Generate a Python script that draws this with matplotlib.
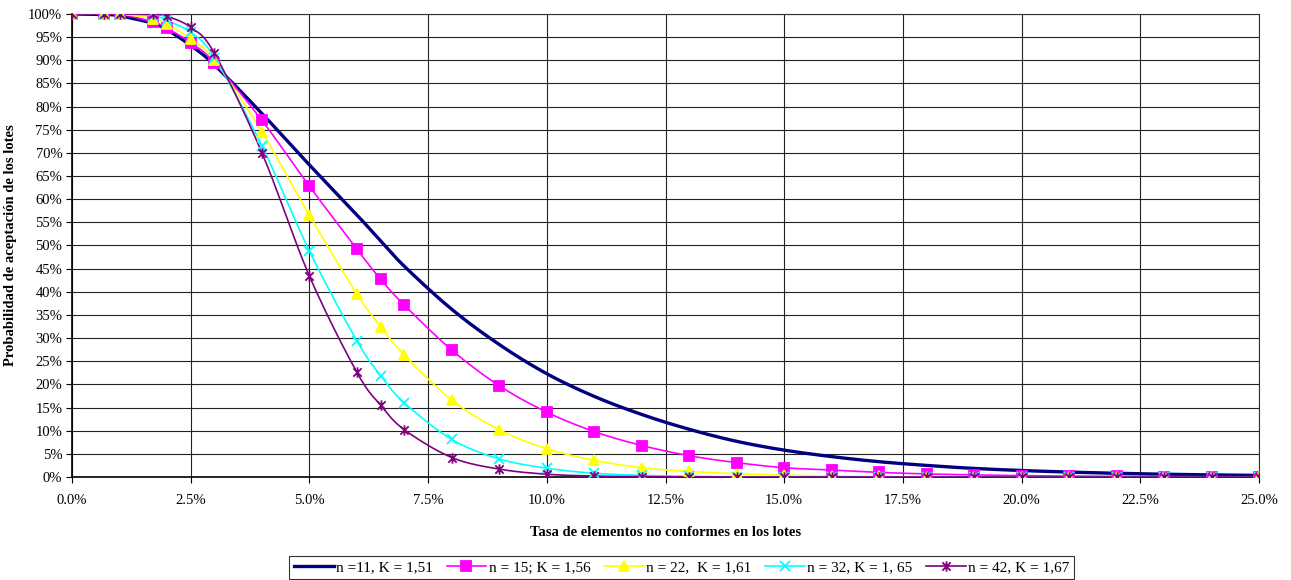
import numpy as np
import matplotlib
matplotlib.use('Agg')
import matplotlib.pyplot as plt
from matplotlib.path import Path
from matplotlib.ticker import FuncFormatter, MultipleLocator

# Tasa de elementos no conformes (%)
tasa = [0, 0.67, 1.0, 1.7, 2.0, 2.5, 3.0, 4, 5, 6, 6.5, 7, 8, 9, 10, 11, 12,
        13, 14, 15, 16, 17, 18, 19, 20, 21, 22, 23, 24, 25]

# Probabilidad de aceptación (%) para cada plan
p_n11 = [100, 99.9, 99.6, 98.0, 96.6, 93.2, 89.0, 78.5, 67.4, 56.6, 51.0, 45.5,
         36.2, 28.6, 22.3, 17.4, 13.5, 10.3, 7.7, 5.8, 4.4, 3.3, 2.5, 1.85,
         1.4, 1.06, 0.8, 0.6, 0.45, 0.34]
p_n15 = [100, 100, 100, 98.3, 96.9, 93.8, 89.5, 77.0, 62.8, 49.2, 42.7, 37.1,
         27.4, 19.7, 14.0, 9.8, 6.8, 4.6, 3.1, 2.0, 1.5, 1.0, 0.66, 0.45,
         0.3, 0.2, 0.14, 0.1, 0.07, 0.05]
p_n22 = [100, 100, 100, 99.0, 97.8, 94.6, 90.0, 74.5, 56.5, 39.5, 32.5, 26.3,
         16.6, 10.2, 6.1, 3.6, 2.0, 1.2, 0.7, 0.4, 0.22, 0.12, 0.07, 0.04,
         0.02, 0.01, 0.01, 0, 0, 0]
p_n32 = [100, 100, 100, 99.6, 98.6, 96.0, 90.6, 71.5, 48.8, 29.4, 21.9, 16.0,
         8.1, 3.9, 1.9, 0.8, 0.35, 0.15, 0.06, 0.02, 0.01, 0, 0, 0,
         0, 0, 0, 0, 0, 0]
p_n42 = [100, 100, 100, 99.9, 99.5, 97.1, 91.5, 70.0, 43.4, 22.6, 15.5, 10.2,
         4.2, 1.7, 0.6, 0.2, 0.07, 0.02, 0.01, 0, 0, 0, 0, 0,
         0, 0, 0, 0, 0, 0]

etiquetas = ['n =11, K = 1,51', 'n = 15; K = 1,56', 'n = 22,  K = 1,61',
             'n = 32, K = 1, 65', 'n = 42, K = 1,67']
colores = ['#000080', '#FF00FF', '#FFFF00', '#00FFFF', '#800080']

plt.rcParams['font.family'] = ['Liberation Serif', 'DejaVu Serif']

# Excel-style smoothed line (Bezier through the points)
def suavizar(x, y, xs=10.26, n=20):
    x = np.asarray(x, float) * xs
    y = np.asarray(y, float)
    px = np.concatenate([[x[0]], x, [x[-1]]])
    py = np.concatenate([[y[0]], y, [y[-1]]])
    t = np.linspace(0, 1, n)[:, None]
    outx, outy = [], []
    for i in range(1, len(px) - 2):
        p0 = np.array([px[i], py[i]])
        p1 = np.array([px[i + 1], py[i + 1]])
        c1 = p0 + (np.array([px[i + 1], py[i + 1]]) - np.array([px[i - 1], py[i - 1]])) / 6
        c2 = p1 - (np.array([px[i + 2], py[i + 2]]) - p0) / 6
        b = ((1 - t) ** 3) * p0 + 3 * ((1 - t) ** 2) * t * c1 + 3 * (1 - t) * t ** 2 * c2 + t ** 3 * p1
        outx.append(b[:, 0])
        outy.append(b[:, 1])
    return np.concatenate(outx) / xs, np.concatenate(outy)

# marcador asterisco de Excel
asterisco = Path([(0, -1), (0, 1), (-0.8, -0.8), (0.8, 0.8), (-0.8, 0.8), (0.8, -0.8)],
                 [Path.MOVETO, Path.LINETO, Path.MOVETO, Path.LINETO, Path.MOVETO, Path.LINETO])

fig = plt.figure(figsize=(12.91, 5.80), dpi=100)
ax = fig.add_axes([0.0558, 0.1776, 0.9194, 0.7983])

series = [p_n11, p_n15, p_n22, p_n32, p_n42]
marcadores = [None, 's', '^', 'x', asterisco]
msizes = [0, 6.5, 7.5, 6.5, 7.5]
lws = [2.4, 1.2, 1.2, 1.2, 1.2]

handles = []
for serie, col, mk, ms, lw, lab in zip(series, colores, marcadores, msizes, lws, etiquetas):
    sx, sy = suavizar(tasa, serie)
    ax.plot(sx, sy, color=col, lw=lw, zorder=3)
    if mk is not None:
        ax.plot(tasa, serie, ls='none', marker=mk, ms=ms, color=col,
                mec=col, mew=1.3, zorder=4)
    h, = plt.plot([], [], color=col, lw=lw, marker=mk, ms=ms, mec=col, mew=1.3)
    handles.append(h)

ax.set_xlim(0, 25)
ax.set_ylim(0, 100)
ax.xaxis.set_major_locator(MultipleLocator(2.5))
ax.yaxis.set_major_locator(MultipleLocator(5))
ax.xaxis.set_major_formatter(FuncFormatter(lambda v, p: f'{v:.1f}%'))
ax.yaxis.set_major_formatter(FuncFormatter(lambda v, p: f'{v:.0f}%'))
ax.grid(True, color='#222222', lw=0.8)
ax.set_axisbelow(True)
ax.tick_params(labelsize=10.5, length=4, width=0.8, direction='out', pad=3)
ax.tick_params(axis='x', pad=8)
for s in ax.spines.values():
    s.set_color('#333333')
    s.set_linewidth(0.8)
ax.spines['left'].set_color('black')
ax.spines['left'].set_linewidth(1.2)
ax.spines['bottom'].set_color('black')
ax.spines['bottom'].set_linewidth(1.2)

ax.set_xlabel('Tasa de elementos no conformes en los lotes', fontsize=10.5,
              fontweight='bold', labelpad=14)
ax.set_ylabel('Probabilidad de aceptación de los lotes', fontsize=10.5,
              fontweight='bold', labelpad=8)

leg = fig.legend(handles, etiquetas, loc='center', bbox_to_anchor=(0.528, 0.021),
                 ncol=5, fontsize=11, frameon=True, fancybox=False,
                 handlelength=2.6, handletextpad=0.15, columnspacing=0.9,
                 borderpad=0.3, borderaxespad=0)
leg.get_frame().set_edgecolor('black')
leg.get_frame().set_linewidth(0.8)

fig.savefig('out.png', dpi=100)
